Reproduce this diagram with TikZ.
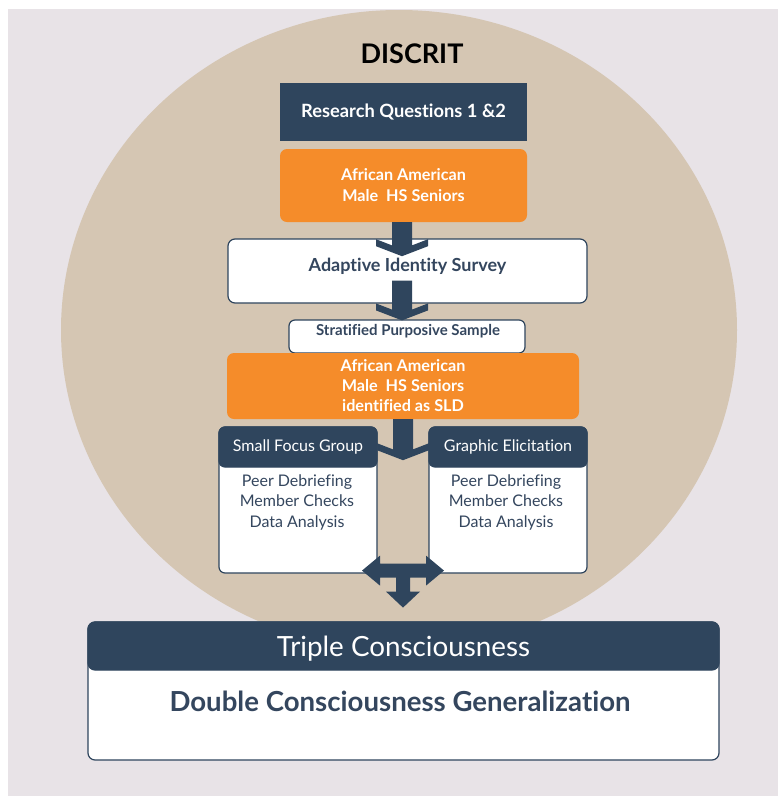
\documentclass[tikz,border=0pt]{standalone}
\usepackage{fontspec}
\setmainfont{Lato}[Ligatures=NoCommon]
\usetikzlibrary{calc}
\definecolor{navy}{HTML}{2F455D}
\definecolor{ink}{HTML}{34465E}
\definecolor{orangebox}{HTML}{F58C2A}
\definecolor{tan}{HTML}{D5C6B3}
\definecolor{paper}{HTML}{E8E3E7}
% thick down arrow with a chevron head: #1 start of the shaft, #2 tip
\newcommand\chevarrow[2]{%
  \fill[navy] let \p1=#1, \p2=#2 in
    (\x2-10pt,\y1) -- (\x2+10pt,\y1) -- (\x2+10pt,\y2+10.8pt)
    -- (\x2+26pt,\y2+17pt) -- (\x2+26pt,\y2+10pt) -- (\x2,\y2)
    -- (\x2-26pt,\y2+10pt) -- (\x2-26pt,\y2+17pt) -- (\x2-10pt,\y2+10.8pt) -- cycle;}
\tikzset{
  darkbox/.style={fill=navy, draw=none, text=white, inner sep=0pt},
  orangecard/.style={fill=orangebox, draw=none, rounded corners=7pt, text=white,
    inner sep=0pt, align=center},
  whitecard/.style={fill=white, draw=navy, line width=1.2pt, rounded corners=7pt, inner sep=0pt},
  headbar/.style={fill=navy, draw=navy, line width=1.2pt, rounded corners=7pt, text=white, inner sep=0pt},
  inktext/.style={text=ink, inner sep=0pt, align=center},
}
\begin{document}
\begin{tikzpicture}[x=1pt, y=-1pt]
\useasboundingbox (0,0) rectangle (778,796);
% backdrop and the DisCrit disc
\fill[paper] (8,9) rectangle (778,796);
\fill[tan] (399,330) ellipse [x radius=338, y radius=320];

\node[font=\bfseries\fontsize{27}{31}\selectfont, text=black, inner sep=0pt] (title) at (412,54) {DISCRIT};

\node[darkbox, minimum width=247pt, minimum height=58pt,
  font=\bfseries\fontsize{18.3}{22}\selectfont] (rq) at (403.5,112) {Research Questions 1 \&2};

\node[orangecard, minimum width=247pt, minimum height=73pt,
  font=\bfseries\fontsize{16.2}{21}\selectfont] (aam1) at (403.5,185.5)
  {African American\\ Male\ \ HS Seniors};

\node[whitecard, minimum width=359pt, minimum height=64pt] (ais) at (407.5,271) {};
\node[inktext, font=\bfseries\fontsize{18}{22}\selectfont] (aisT) at (407.5,266) {Adaptive Identity Survey};

\node[whitecard, rounded corners=6pt, minimum width=236pt, minimum height=33pt] (sps) at (407,336.5) {};
\node[inktext, font=\bfseries\fontsize{15}{18}\selectfont] (spsT) at (408,331.5) {Stratified Purposive Sample};

\node[orangecard, minimum width=352pt, minimum height=66pt,
  font=\bfseries\fontsize{16.2}{20}\selectfont] (aam2) at (403,386)
  {African American\\ Male\ \ HS Seniors\\ identified as SLD};

% arrows between the stages
\chevarrow{(402,222)}{($(aam1.south)+(-1.5,34)$)}
\chevarrow{($(ais.south)+(-5.5,-23)$)}{($(sps.north)+(-5,1)$)}
\chevarrow{(aam2.south)}{($(aam2.south)+(0,41)$)}

% the two data collection strands
\node[whitecard, rounded corners=6pt, minimum width=158pt, minimum height=146pt] (sfg) at (298,500) {};
\node[headbar, rounded corners=6pt, minimum width=158pt, minimum height=40pt,
  font=\fontsize{16}{19}\selectfont] (sfgH) at (298,447) {Small Focus Group};
\node[inktext, font=\fontsize{16}{20.5}\selectfont] (sfgT) at (297,502)
  {Peer Debriefing\\ Member Checks\\ Data Analysis};

\node[whitecard, rounded corners=6pt, minimum width=158pt, minimum height=146pt] (ge) at (508,500) {};
\node[headbar, rounded corners=6pt, minimum width=158pt, minimum height=40pt,
  font=\fontsize{16}{19}\selectfont] (geH) at (508,447) {Graphic Elicitation};
\node[inktext, font=\fontsize{16}{20.5}\selectfont] (geT) at (506,502)
  {Peer Debriefing\\ Member Checks\\ Data Analysis};

% outcome box
\node[whitecard, rounded corners=7pt, minimum width=631pt, minimum height=138pt] (dcg) at (403.5,691) {};
\node[headbar, rounded corners=7pt, minimum width=631pt, minimum height=48pt] (tc) at (403.5,646) {};
\node[text=white, inner sep=0pt, font=\fontsize{27.8}{32}\selectfont] (tcT) at (403.5,649) {Triple Consciousness};
\node[inktext, font=\bfseries\fontsize{27.6}{32}\selectfont] (dcgT) at (400,701)
  {Double Consciousness Generalization};

% merging arrow: both strands feed down into the outcome
\coordinate (merge) at ($(sfg.south east)!0.5!(ge.south west)+(0,-3)$);
\begin{scope}[shift={(merge)}]
\fill[navy] (-41,0) -- (-23,-15) -- (-23,-7) -- (23,-7) -- (23,-15) -- (41,0)
  -- (23,15) -- (23,7) -- (7,7) -- (7,21) -- (17,21) -- (0,37) -- (-17,21)
  -- (-7,21) -- (-7,7) -- (-23,7) -- (-23,15) -- cycle;
\end{scope}
\end{tikzpicture}
\end{document}
